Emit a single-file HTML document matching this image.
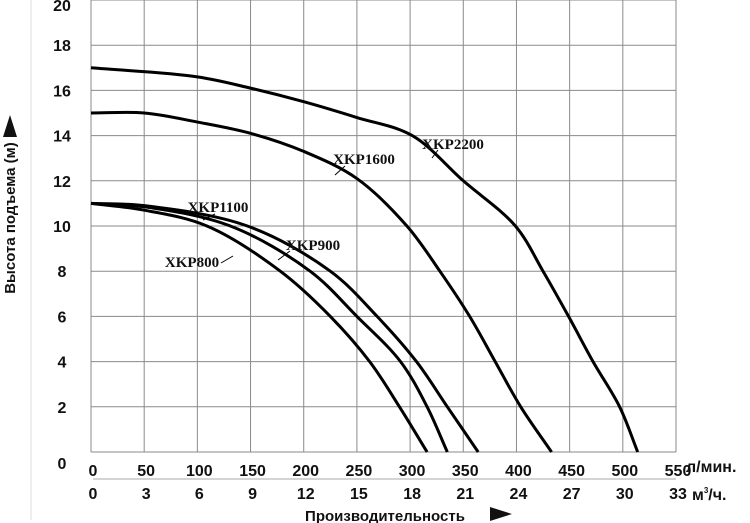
<!DOCTYPE html>
<html><head><meta charset="utf-8"><style>
body{margin:0;background:#fff;width:750px;height:523px;overflow:hidden}
svg{display:block;font-family:"Liberation Sans",sans-serif}
.tk{font-weight:bold;font-size:16px;fill:#111}
.ti{font-weight:bold;font-size:15px;fill:#111}
.lb{font-family:"Liberation Serif",serif;font-weight:bold;font-size:15px;fill:#111}
</style></head><body>
<svg id="c" width="750" height="523"></svg>
<script>
const flowTicks=[0,50,100,150,200,250,300,350,400,450,500,550];
const m3Ticks=[0,3,6,9,12,15,18,21,24,27,30,33];
const headTicks=[0,2,4,6,8,10,12,14,16,18,20];
const seriesNames=["XKP2200","XKP1600","XKP1100","XKP900","XKP800"];
const flowXKP2200=[0,100,150,200,250,302,350,399,425,449,472,497,514];
const headXKP2200=[17,16.6,16.1,15.5,14.8,14,12,10,8,6,4,2,0];
const flowXKP1600=[0,50,100,150,200,250,297,328,356,380,404,433];
const headXKP1600=[15,15,14.6,14.1,13.3,12.1,10,8,6,4,2,0];
const flowXKP1100=[0,50,147,225,269,306,335,364];
const headXKP1100=[11,10.9,10,8,6,4,2,0];
const flowXKP900=[0,50,131,206,250,291,316,335];
const headXKP900=[11,10.85,10,8,6,4,2,0];
const flowXKP800=[0,50,109,178,225,262,290,316];
const headXKP800=[11,10.7,10,8,6,4,2,0];

const NS="http://www.w3.org/2000/svg",svg=document.getElementById('c');
const X0=91,X1=676,Y0=452,Y1=0;
const x=v=>X0+(v/550)*(X1-X0), y=v=>Y0-(v/20)*(Y0-Y1);
function mk(t,a,p){const e=document.createElementNS(NS,t);for(const k in a)e.setAttribute(k,a[k]);(p||svg).appendChild(e);return e;}
function txt(s,xx,yy,cls,anchor){const e=mk('text',{x:xx,y:yy,class:cls,'text-anchor':anchor||'middle'});e.textContent=s;return e;}
flowTicks.forEach(v=>{const l=mk('line',{x1:x(v),x2:x(v),y1:Y1,y2:Y0,stroke:'#8a8a8a','stroke-width':1});

});
headTicks.forEach(v=>{const l=mk('line',{x1:X0,x2:X1,y1:y(v),y2:y(v),stroke:'#8a8a8a','stroke-width':1});


const t=txt(String(v),62,v==0?469:(v==20?11:y(v)+6),'tk');

});
mk('line',{x1:31,x2:31,y1:0,y2:520,stroke:'#ddd','stroke-width':1});
flowTicks.forEach(v=>{const t=txt(String(v),x(v)+2,476,'tk');

});
mk('line',{x1:X0+2,x2:X1,y1:479,y2:479,stroke:'#aaa','stroke-width':1});
m3Ticks.forEach((v,i)=>{const t=txt(String(v),x(flowTicks[i])+2,499,'tk');

});
let u=txt('л/мин.',686,472,'tk','start');
u=mk('text',{x:692,y:500,class:'tk','text-anchor':'start'});u.innerHTML='м<tspan font-size="8" dy="-7">3</tspan><tspan dy="7">/ч.</tspan>';

u=txt('Производительность',385,521,'ti');
mk('polygon',{points:'490,507 512,514 490,521',fill:'#111'});
u=txt('Высота подъема (м)',0,0,'ti');u.setAttribute('transform','translate(15,218) rotate(-90)');

mk('polygon',{points:'3,137 10,115 17,137',fill:'#111'});
function path(fx,fy){const P=fx.map((f,i)=>[x(f),y(fy[i])]);const n=P.length;
const ext=(a,b)=>[2*a[0]-b[0],2*a[1]-b[1]];
const Q=[ext(P[0],P[1])].concat(P,[ext(P[n-1],P[n-2])]);
const dist=(a,b)=>Math.max(1e-6,Math.sqrt(Math.hypot(a[0]-b[0],a[1]-b[1])));
let d='M'+P[0][0]+','+P[0][1];
for(let i=1;i<Q.length-2;i++){const p0=Q[i-1],p1=Q[i],p2=Q[i+1],p3=Q[i+2];
const d1=dist(p0,p1),d2=dist(p1,p2),d3=dist(p2,p3);
const b1=[0,1].map(k=>(d1*d1*p2[k]-d2*d2*p0[k]+(2*d1*d1+3*d1*d2+d2*d2)*p1[k])/(3*d1*(d1+d2)));
const b2=[0,1].map(k=>(d3*d3*p1[k]-d2*d2*p3[k]+(2*d3*d3+3*d3*d2+d2*d2)*p2[k])/(3*d3*(d3+d2)));
d+=' C'+b1[0]+','+b1[1]+' '+b2[0]+','+b2[1]+' '+p2[0]+','+p2[1];}return d;}
const data={XKP2200:[flowXKP2200,headXKP2200],XKP1600:[flowXKP1600,headXKP1600],XKP1100:[flowXKP1100,headXKP1100],XKP900:[flowXKP900,headXKP900],XKP800:[flowXKP800,headXKP800]};
seriesNames.forEach(n=>{const p=mk('path',{d:path(data[n][0],data[n][1]),fill:'none',stroke:'#000','stroke-width':3,'stroke-linejoin':'round'});

});
const labs=[["XKP2200",453,149,[438,150,432,158]],["XKP1600",364,164,[345,166,335,175]],["XKP1100",218,212,[215,214,203,220]],["XKP900",313,250,[290,251,278,260]],["XKP800",192,267,[221,263,233,256]]];
labs.forEach(l=>{const t=txt(l[0],l[1],l[2],'lb');


mk('line',{x1:l[3][0],y1:l[3][1],x2:l[3][2],y2:l[3][3],stroke:'#000','stroke-width':1});});
</script>
</body></html>
